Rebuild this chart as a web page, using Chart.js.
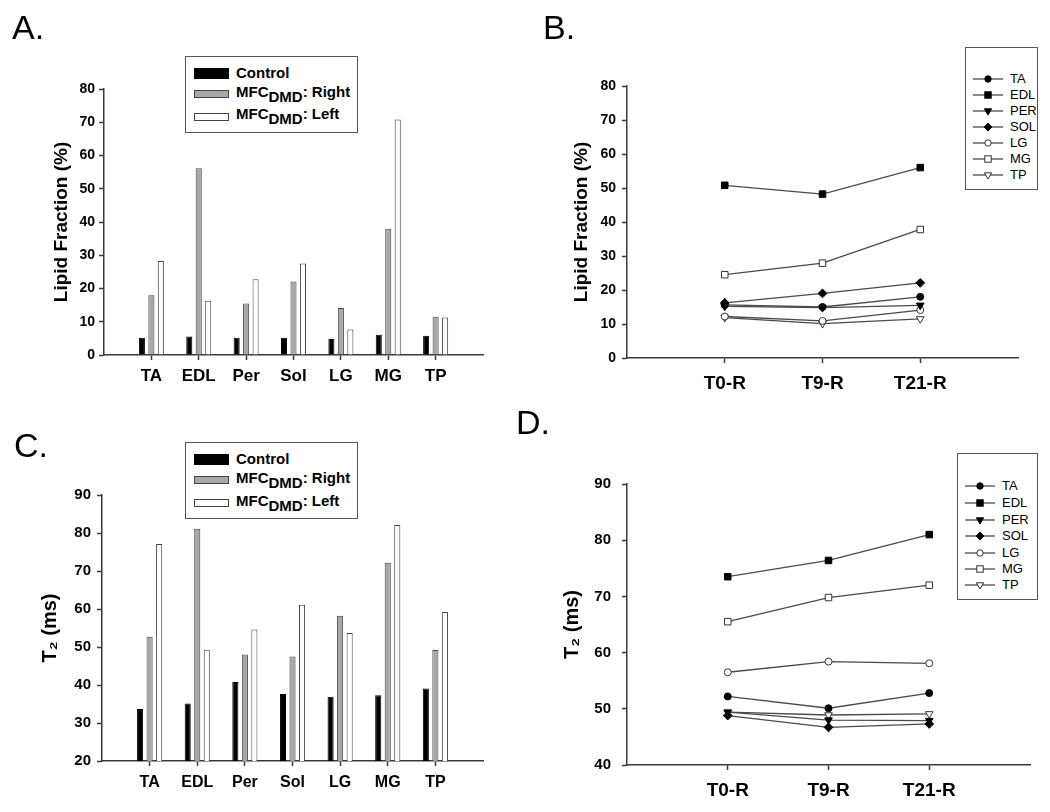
<!DOCTYPE html>
<html>
<head>
<meta charset="utf-8">
<script src="https://cdn.jsdelivr.net/npm/chart.js@4.4.1/dist/chart.umd.min.js"></script>
<style>
  body { margin: 0; background: #fff; }
  #page { position: relative; width: 1050px; height: 812px; overflow: hidden;
          font-family: 'Liberation Sans', Arial, sans-serif; color: #000; }
  canvas { position: absolute; }
  .letter { position: absolute; font-size: 34px; line-height: 1; }
  .legend { position: absolute; border: 1px solid #555; background: #fff; box-sizing: border-box; }
  .row { position: absolute; white-space: nowrap; }
  .barrow { font-weight: bold; font-size: 15px; line-height: 18px; }
  .linerow { font-size: 13px; line-height: 16px; }
  .sw { position: absolute; box-sizing: border-box; }
  .sub { position: relative; top: 5px; }
</style>
</head>
<body>
<div id="page">
  <canvas id="chartA" width="520" height="410" style="left:0;top:0"></canvas>
  <canvas id="chartB" width="530" height="410" style="left:520px;top:0"></canvas>
  <canvas id="chartC" width="520" height="402" style="left:0;top:410px"></canvas>
  <canvas id="chartD" width="530" height="402" style="left:520px;top:410px"></canvas>
  <div class="letter" style="left:12px;top:10px">A.</div>
  <div class="letter" style="left:543px;top:10px">B.</div>
  <div class="letter" style="left:14px;top:428px">C.</div>
  <div class="letter" style="left:516px;top:405px">D.</div>
</div>
<script>
// bar panels (A, C)
const muscles = ['TA', 'EDL', 'Per', 'Sol', 'LG', 'MG', 'TP'];
const barSeries = ['Control', 'MFC|DMD|: Right', 'MFC|DMD|: Left'];
const lipidControl = [5.2, 5.6, 5.2, 5.2, 4.8, 6.1, 5.8];
const lipidRight = [18.0, 56.2, 15.5, 22.1, 14.1, 38.0, 11.5];
const lipidLeft = [28.3, 16.3, 22.8, 27.5, 7.7, 70.8, 11.3];
const t2Control = [33.7, 35.1, 40.8, 37.6, 36.9, 37.3, 39.1];
const t2Right = [52.7, 81.1, 48.0, 47.5, 58.2, 72.2, 49.2];
const t2Left = [77.1, 49.3, 54.6, 61.1, 53.7, 82.1, 59.2];

// line panels (B, D)
const timepoints = ['T0-R', 'T9-R', 'T21-R'];
const lineSeries = ['TA', 'EDL', 'PER', 'SOL', 'LG', 'MG', 'TP'];
const lipidTA = [15.6, 15.0, 18.0];
const lipidEDL = [50.8, 48.2, 56.0];
const lipidPER = [15.2, 14.8, 15.5];
const lipidSOL = [16.2, 19.0, 22.1];
const lipidLG = [12.2, 10.9, 14.1];
const lipidMG = [24.5, 27.9, 37.8];
const lipidTP = [11.9, 10.1, 11.5];
const t2TA = [52.2, 50.1, 52.8];
const t2EDL = [73.5, 76.4, 81.0];
const t2PER = [49.4, 48.0, 47.9];
const t2SOL = [48.8, 46.7, 47.3];
const t2LG = [56.5, 58.4, 58.1];
const t2MG = [65.5, 69.8, 72.0];
const t2TP = [49.4, 48.9, 49.1];

const axisColor = '#3a3a3a';
const lineColor = '#4a4a4a';
Chart.defaults.font.family = "'Liberation Sans', Arial, sans-serif";
Chart.defaults.color = '#000';

// empty slot on each side of the categories
const pad = arr => [null, ...arr, null];

const barStyles = [
    { backgroundColor: '#000', borderColor: '#000' },
    { backgroundColor: '#a8a8a8', borderColor: '#444' },
    { backgroundColor: '#fff', borderColor: '#444' }
];

const markers = [
    { pointStyle: 'circle', pointRadius: 3.5, fill: true },
    { pointStyle: 'rect', pointRadius: 4.6, fill: true },
    { pointStyle: 'triangle', pointRadius: 4.4, pointRotation: 180, fill: true },
    { pointStyle: 'rectRot', pointRadius: 4.4, fill: true },
    { pointStyle: 'circle', pointRadius: 3.5, fill: false },
    { pointStyle: 'rect', pointRadius: 4.6, fill: false },
    { pointStyle: 'triangle', pointRadius: 4.4, pointRotation: 180, fill: false }
];

function makeScales(o) {
    const n = o.labels.length;
    return {
        x: {
            type: 'category',
            labels: o.labels,
            offset: false,
            grid: {
                offset: false, drawOnChartArea: false, tickLength: 5, tickWidth: 1.5,
                tickColor: c => (c.index === 0 || c.index === n - 1) ? 'rgba(0,0,0,0)' : axisColor
            },
            border: { color: axisColor, width: 1.5 },
            ticks: { font: { size: o.xFont, weight: 'bold' }, color: '#000', padding: o.xPad,
                     maxRotation: 0, autoSkip: false },
            afterFit: s => { s.height = o.bottomH; }
        },
        y: {
            min: o.min, max: o.max,
            grid: { drawOnChartArea: false, tickLength: 5, tickWidth: 1.5, color: axisColor },
            border: { color: axisColor, width: 1.5 },
            ticks: { stepSize: 10, font: { size: o.yFont, weight: 'bold' }, color: '#000', padding: o.yPad },
            title: { display: true, text: o.title, color: '#000',
                     font: { size: o.titleSize, weight: 'bold' },
                     padding: { top: o.titlePad, bottom: 0 } },
            afterFit: s => { s.width = o.left; }
        }
    };
}

function makeChart(id, type, datasets, o) {
    const canvas = document.getElementById(id);
    return new Chart(canvas, {
        type: type,
        data: { labels: o.labels, datasets: datasets },
        options: {
            responsive: false,
            animation: false,
            layout: { padding: { top: o.top, right: canvas.width - o.right, left: 0, bottom: 0 } },
            plugins: { legend: { display: false }, tooltip: { enabled: false } },
            scales: makeScales(o)
        }
    });
}

function barDatasets(series) {
    return series.map((vals, i) => ({
        label: barSeries[i],
        data: pad(vals),
        backgroundColor: barStyles[i].backgroundColor,
        borderColor: barStyles[i].borderColor,
        borderWidth: 1,
        categoryPercentage: 0.6,
        barPercentage: 0.64
    }));
}

function lineDatasets(series) {
    return series.map((vals, i) => ({
        label: lineSeries[i],
        data: pad(vals),
        borderColor: lineColor,
        borderWidth: 1.3,
        tension: 0,
        pointStyle: markers[i].pointStyle,
        pointRadius: markers[i].pointRadius,
        pointRotation: markers[i].pointRotation || 0,
        pointBackgroundColor: markers[i].fill ? '#000' : '#fff',
        pointBorderColor: markers[i].fill ? '#000' : '#333',
        pointBorderWidth: 1
    }));
}

const paddedMuscles = pad(muscles).map(v => v || '');
const paddedTimes = pad(timepoints).map(v => v || '');

makeChart('chartA', 'bar', barDatasets([lipidControl, lipidRight, lipidLeft]), {
    labels: paddedMuscles, min: 0, max: 80, left: 104, right: 483, top: 89, bottomH: 55,
    xFont: 17, xPad: 6, yFont: 14, yPad: 4, title: 'Lipid Fraction (%)', titleSize: 19, titlePad: 50
});
makeChart('chartC', 'bar', barDatasets([t2Control, t2Right, t2Left]), {
    labels: paddedMuscles, min: 20, max: 90, left: 102, right: 483, top: 85, bottomH: 51,
    xFont: 16, xPad: 7, yFont: 15, yPad: 6, title: 'T\u2082 (ms)', titleSize: 20, titlePad: 38
});
makeChart('chartB', 'line',
    lineDatasets([lipidTA, lipidEDL, lipidPER, lipidSOL, lipidLG, lipidMG, lipidTP]), {
    labels: paddedTimes, min: 0, max: 80, left: 107, right: 498, top: 86, bottomH: 52,
    xFont: 19, xPad: 9, yFont: 14, yPad: 6, title: 'Lipid Fraction (%)', titleSize: 19, titlePad: 50
});
makeChart('chartD', 'line',
    lineDatasets([t2TA, t2EDL, t2PER, t2SOL, t2LG, t2MG, t2TP]), {
    labels: paddedTimes, min: 40, max: 90, left: 107, right: 510, top: 74, bottomH: 47,
    xFont: 19, xPad: 9, yFont: 15, yPad: 11, title: 'T\u2082 (ms)', titleSize: 20, titlePad: 40
});

// legends (HTML so the DMD subscript is real text)
const page = document.getElementById('page');

function labelHtml(text) {
    const parts = text.split('|');
    if (parts.length === 1) return text;
    return parts[0] + '<span class="sub">' + parts[1] + '</span>' + parts[2];
}

function barLegend(box, rows, swatches) {
    const lg = document.createElement('div');
    lg.className = 'legend';
    Object.assign(lg.style, { left: box[0] + 'px', top: box[1] + 'px',
        width: (box[2] - box[0]) + 'px', height: (box[3] - box[1]) + 'px' });
    page.appendChild(lg);
    barSeries.forEach((name, i) => {
        const sw = document.createElement('div');
        sw.className = 'sw';
        const h = i === 0 ? 11 : 8;
        Object.assign(sw.style, { left: (193 - box[0]) + 'px', top: (swatches[i] - h / 2 - box[1]) + 'px',
            width: '35px', height: h + 'px', background: barStyles[i].backgroundColor,
            border: '1px solid ' + barStyles[i].borderColor });
        lg.appendChild(sw);
        const r = document.createElement('div');
        r.className = 'row barrow';
        r.style.left = (235 - box[0]) + 'px';
        r.style.top = (rows[i] - 9 - box[1]) + 'px';
        r.innerHTML = labelHtml(name);
        lg.appendChild(r);
    });
}

function markerSvg(i) {
    const m = markers[i];
    const fill = m.fill ? '#000' : '#fff';
    const stroke = m.fill ? '#000' : '#333';
    const cx = 15, cy = 6;
    let shape;
    if (m.pointStyle === 'circle') {
        shape = `<circle cx="${cx}" cy="${cy}" r="3.2"/>`;
    } else if (m.pointStyle === 'rect') {
        shape = `<rect x="${cx - 3.2}" y="${cy - 3.2}" width="6.4" height="6.4"/>`;
    } else if (m.pointStyle === 'triangle') {
        shape = `<polygon points="${cx},${cy + 4} ${cx - 3.6},${cy - 2.2} ${cx + 3.6},${cy - 2.2}"/>`;
    } else {
        shape = `<polygon points="${cx},${cy - 4} ${cx + 4},${cy} ${cx},${cy + 4} ${cx - 4},${cy}"/>`;
    }
    return `<svg width="30" height="12" style="position:absolute;left:0;top:0">` +
        `<line x1="0" y1="${cy}" x2="30" y2="${cy}" stroke="${lineColor}" stroke-width="1.3"/>` +
        `<g fill="${fill}" stroke="${stroke}" stroke-width="1">${shape}</g></svg>`;
}

function lineLegend(box, lineX, textX, rows) {
    const lg = document.createElement('div');
    lg.className = 'legend';
    Object.assign(lg.style, { left: box[0] + 'px', top: box[1] + 'px',
        width: (box[2] - box[0]) + 'px', height: (box[3] - box[1]) + 'px' });
    page.appendChild(lg);
    lineSeries.forEach((name, i) => {
        const s = document.createElement('div');
        s.style.position = 'absolute';
        s.style.left = (lineX - box[0]) + 'px';
        s.style.top = (rows[i] - 6 - box[1]) + 'px';
        s.innerHTML = markerSvg(i);
        lg.appendChild(s);
        const r = document.createElement('div');
        r.className = 'row linerow';
        r.style.left = (textX - box[0]) + 'px';
        r.style.top = (rows[i] - 8 - box[1]) + 'px';
        r.textContent = name;
        lg.appendChild(r);
    });
}

barLegend([185, 56, 358, 133], [72, 91, 113], [72.5, 93.3, 115.8]);
barLegend([185, 442, 358, 519], [457.5, 477, 499.7], [458.3, 479.2, 501.5]);
lineLegend([965, 47, 1038, 190], 972, 1009, [78.3, 94, 110, 126, 142.3, 158.3, 174.3]);
lineLegend([957, 453, 1038, 600], 964, 1001, [485, 502, 518.7, 535, 552, 568, 584]);
</script>
</body>
</html>
